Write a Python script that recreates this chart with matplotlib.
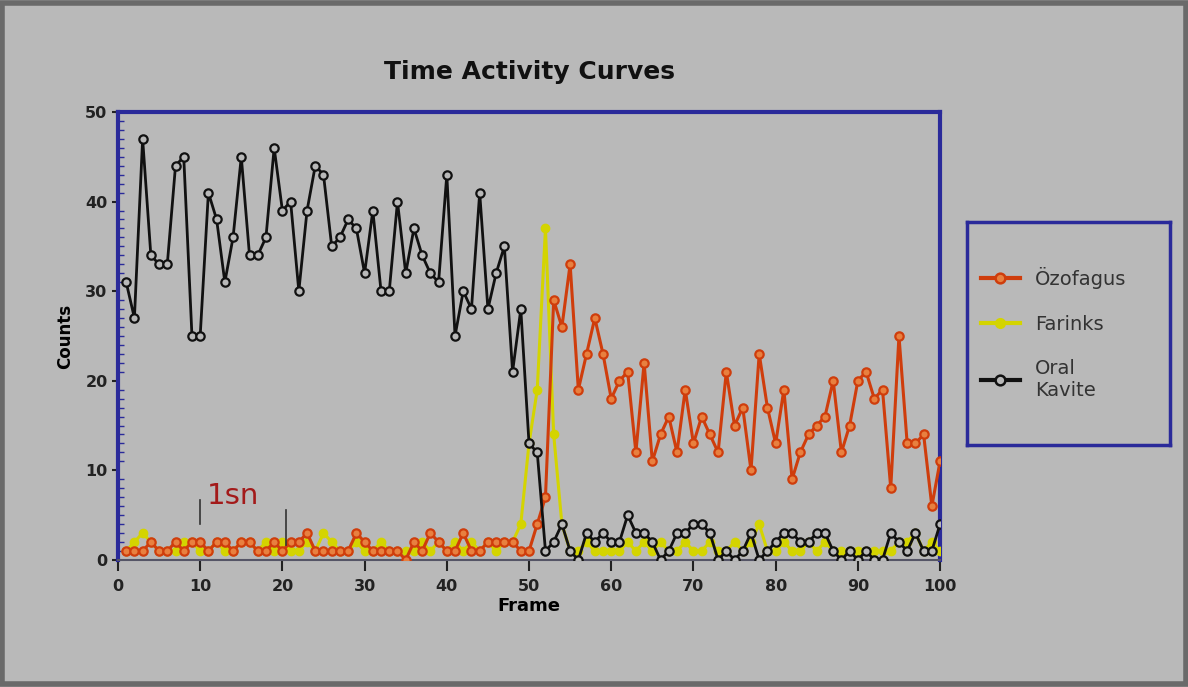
import numpy as np
import matplotlib
matplotlib.use("Agg")
import matplotlib.pyplot as plt
from matplotlib.ticker import MultipleLocator
from matplotlib.lines import Line2D
from matplotlib.patches import Rectangle

# Data (frames 1..100)
frames = np.arange(1, 101)

oral_kavite = [31, 27, 47, 34, 33, 33, 44, 45, 25, 25,
               41, 38, 31, 36, 45, 34, 34, 36, 46, 39,
               40, 30, 39, 44, 43, 35, 36, 38, 37, 32,
               39, 30, 30, 40, 32, 37, 34, 32, 31, 43,
               25, 30, 28, 41, 28, 32, 35, 21, 28, 13,
               12, 1, 2, 4, 1, 0, 3, 2, 3, 2,
               2, 5, 3, 3, 2, 0, 1, 3, 3, 4,
               4, 3, 0, 1, 0, 1, 3, 0, 1, 2,
               3, 3, 2, 2, 3, 3, 1, 0, 1, 0,
               1, 0, 0, 3, 2, 1, 3, 1, 1, 4]

ozofagus = [1, 1, 1, 2, 1, 1, 2, 1, 2, 2,
            1, 2, 2, 1, 2, 2, 1, 1, 2, 1,
            2, 2, 3, 1, 1, 1, 1, 1, 3, 2,
            1, 1, 1, 1, 0, 2, 1, 3, 2, 1,
            1, 3, 1, 1, 2, 2, 2, 2, 1, 1,
            4, 7, 29, 26, 33, 19, 23, 27, 23, 18,
            20, 21, 12, 22, 11, 14, 16, 12, 19, 13,
            16, 14, 12, 21, 15, 17, 10, 23, 17, 13,
            19, 9, 12, 14, 15, 16, 20, 12, 15, 20,
            21, 18, 19, 8, 25, 13, 13, 14, 6, 11]

farinks = [1, 2, 3, 2, 1, 1, 1, 2, 2, 1,
           1, 2, 1, 1, 2, 2, 1, 2, 1, 2,
           1, 1, 2, 1, 3, 2, 1, 1, 2, 1,
           1, 2, 1, 1, 1, 1, 2, 1, 2, 1,
           2, 1, 2, 1, 2, 1, 2, 2, 4, 13,
           19, 37, 14, 4, 1, 1, 2, 1, 1, 1,
           1, 2, 1, 2, 1, 2, 1, 1, 2, 1,
           1, 2, 1, 1, 2, 1, 2, 4, 1, 1,
           2, 1, 1, 2, 1, 2, 1, 1, 1, 1,
           1, 1, 1, 1, 2, 2, 3, 1, 2, 1]

x_ticks = list(range(0, 101, 10))
y_ticks = list(range(0, 51, 10))

# "1sn" marker: two short vertical bars (frame, y_low, y_high)
sn_bars = [(10, 4.0, 6.7), (20.5, 1.7, 5.6)]

bg = "#b9b9b9"
blue = "#2a2a9a"
c_oz = "#cf3d0c"
c_far = "#d4d400"
c_oral = "#111111"

fig = plt.figure(figsize=(11.88, 6.87), dpi=100, facecolor=bg)
fig.add_artist(Rectangle((0.002, 0.004), 0.996, 0.992, transform=fig.transFigure,
                         fill=False, edgecolor="#6a6a6a", linewidth=4))

ax = fig.add_axes([0.0993, 0.185, 0.692, 0.652], facecolor=bg)

ax.plot(frames, farinks, color=c_far, lw=2.2, marker="o", ms=5.5,
        mfc=c_far, mec=c_far, mew=1.5, zorder=3)
ax.plot(frames, ozofagus, color=c_oz, lw=2.2, marker="o", ms=6,
        mfc="#e8803f", mec=c_oz, mew=1.6, zorder=4)
ax.plot(frames, oral_kavite, color=c_oral, lw=2.0, marker="o", ms=6,
        mfc=bg, mec=c_oral, mew=1.6, zorder=5)

for fx, y0, y1 in sn_bars:
    ax.plot([fx, fx], [y0, y1], color="#333333", lw=1.2, zorder=6)
ax.text(10.8, 6.2, "1sn", color="#a31a1a", fontsize=21, zorder=7)

ax.set_xlim(0, 100)
ax.set_ylim(0, 50)
ax.set_xticks(x_ticks)
ax.set_yticks(y_ticks)
ax.yaxis.set_minor_locator(MultipleLocator(1))
ax.tick_params(axis="x", direction="out", length=8, width=1.5, colors="#222222",
               labelsize=11.5, pad=6)
ax.tick_params(axis="y", which="major", direction="out", length=4, width=1.5,
               colors="#222222", labelsize=11.5)
ax.tick_params(axis="y", which="minor", direction="in", length=4, width=1,
               colors=blue)
for lbl in ax.get_xticklabels() + ax.get_yticklabels():
    lbl.set_fontweight("bold")

for side in ["left", "top", "right"]:
    ax.spines[side].set_color(blue)
    ax.spines[side].set_linewidth(3)
ax.spines["bottom"].set_color("#555566")
ax.spines["bottom"].set_linewidth(1.5)

ax.set_xlabel("Frame", fontsize=13, fontweight="bold", labelpad=2)
ax.set_ylabel("Counts", fontsize=12, fontweight="bold", labelpad=8)
fig.text(0.446, 0.895, "Time Activity Curves", ha="center", va="center",
         fontsize=18, fontweight="bold", color="#111111")

# legend box
lax = fig.add_axes([0.814, 0.352, 0.171, 0.325], facecolor=bg)
lax.set_xticks([])
lax.set_yticks([])
for s in lax.spines.values():
    s.set_color(blue)
    s.set_linewidth(2.5)
handles = [
    Line2D([], [], color=c_oz, lw=3, marker="o", ms=7, mfc="#e8803f", mec=c_oz, mew=1.8),
    Line2D([], [], color=c_far, lw=3, marker="o", ms=7, mfc=c_far, mec=c_far),
    Line2D([], [], color=c_oral, lw=3, marker="o", ms=7, mfc=bg, mec=c_oral, mew=1.8),
]
labels = ["Özofagus", "Farinks", "Oral\nKavite"]
lax.legend(handles, labels, loc="center left", frameon=False, fontsize=14,
           handlelength=2.0, labelspacing=1.3, borderaxespad=0.3,
           labelcolor="#333333")

fig.savefig("out.png", dpi=100, facecolor=bg)
